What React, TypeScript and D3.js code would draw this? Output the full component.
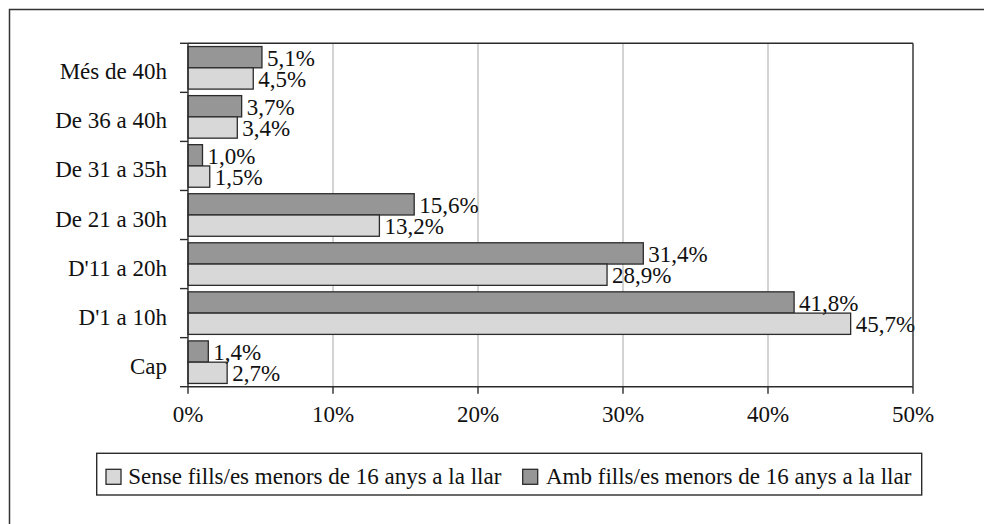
import React from "react";
import { scaleLinear, scaleBand, range } from "d3";

const categories = ["Més de 40h", "De 36 a 40h", "De 31 a 35h", "De 21 a 30h", "D'11 a 20h", "D'1 a 10h", "Cap"];
const ambValues = [5.1, 3.7, 1.0, 15.6, 31.4, 41.8, 1.4];
const senseValues = [4.5, 3.4, 1.5, 13.2, 28.9, 45.7, 2.7];
const xTicks = [0, 10, 20, 30, 40, 50];
const seriesNames = ["Sense fills/es menors de 16 anys a la llar", "Amb fills/es menors de 16 anys a la llar"];

const W = 984;
const H = 524;
const plot = { left: 188, right: 913, top: 43.3, bottom: 386.7 };
const FONT = "'Liberation Serif', 'Times New Roman', serif";
const DARK = "#969696";
const LIGHT = "#d8d8d8";
const STROKE = "#2b2b2b";

const fmt = (v: number) => v.toFixed(1).replace(".", ",") + "%";

export default function App() {
    const x = scaleLinear().domain([0, 50]).range([plot.left, plot.right]);
    const y = scaleBand<string>().domain(categories).range([plot.top, plot.bottom]).padding(0);
    const bw = y.bandwidth();
    const barH = (bw - 6.5) / 2;

    return (
        <svg width={W} height={H} style={{ position: "absolute", left: 0, top: 0, background: "#fff" }} fontFamily={FONT}>
            {/* outer frame, right and bottom fall outside the picture */}
            <rect x={9.5} y={9.5} width={1200} height={1200} fill="none" stroke="#333" strokeWidth={1.5} />

            {/* grid */}
            {xTicks.slice(1, -1).map(t => (
                <line key={t} x1={x(t)} x2={x(t)} y1={plot.top} y2={plot.bottom} stroke="#c4c4c4" strokeWidth={1.5} />
            ))}

            {/* bars */}
            {categories.map((c, i) => {
                const y0 = (y(c) as number) + (bw - 2 * barH) / 2;
                return (
                    <g key={c}>
                        <rect x={x(0)} y={y0} width={x(ambValues[i]) - x(0)} height={barH} fill={DARK} stroke={STROKE} strokeWidth={1.3} />
                        <rect x={x(0)} y={y0 + barH} width={x(senseValues[i]) - x(0)} height={barH} fill={LIGHT} stroke={STROKE} strokeWidth={1.3} />
                        <text x={x(ambValues[i]) + 5} y={y0 + barH - 2} fontSize={23} fill="#111">{fmt(ambValues[i])}</text>
                        <text x={x(senseValues[i]) + 5} y={y0 + 2 * barH - 2.5} fontSize={23} fill="#111">{fmt(senseValues[i])}</text>
                        <text x={167} y={(y(c) as number) + bw / 2 + 11.5} fontSize={23} textAnchor="end" fill="#111">{c}</text>
                    </g>
                );
            })}

            {/* plot frame: top and right */}
            <line x1={plot.left} x2={plot.right} y1={plot.top} y2={plot.top} stroke={STROKE} strokeWidth={1.4} />
            <line x1={plot.right} x2={plot.right} y1={plot.top} y2={plot.bottom} stroke={STROKE} strokeWidth={1.4} />

            {/* y axis */}
            <line x1={plot.left} x2={plot.left} y1={plot.top} y2={plot.bottom} stroke={STROKE} strokeWidth={1.4} />
            {range(categories.length + 1).map(k => {
                const yy = plot.top + k * bw;
                return <line key={k} x1={plot.left - 8} x2={plot.left} y1={yy} y2={yy} stroke={STROKE} strokeWidth={1.4} />;
            })}

            {/* x axis */}
            <line x1={plot.left} x2={plot.right} y1={plot.bottom} y2={plot.bottom} stroke={STROKE} strokeWidth={1.4} />
            {xTicks.map(t => (
                <g key={t}>
                    <line x1={x(t)} x2={x(t)} y1={plot.bottom} y2={plot.bottom + 7} stroke={STROKE} strokeWidth={1.4} />
                    <text x={x(t)} y={421.5} fontSize={23} textAnchor="middle" fill="#111">{t}%</text>
                </g>
            ))}

            {/* legend */}
            <rect x={96.7} y={453.3} width={825} height={41.7} fill="#fff" stroke={STROKE} strokeWidth={1.4} />
            <rect x={106} y={469.3} width={15} height={15} fill={LIGHT} stroke={STROKE} strokeWidth={1.3} />
            <text x={128.3} y={483.5} fontSize={23} fill="#111">{seriesNames[0]}</text>
            <rect x={522.7} y={469.3} width={15} height={15} fill={DARK} stroke={STROKE} strokeWidth={1.3} />
            <text x={546} y={483.5} fontSize={23} fill="#111">{seriesNames[1]}</text>
        </svg>
    );
}
